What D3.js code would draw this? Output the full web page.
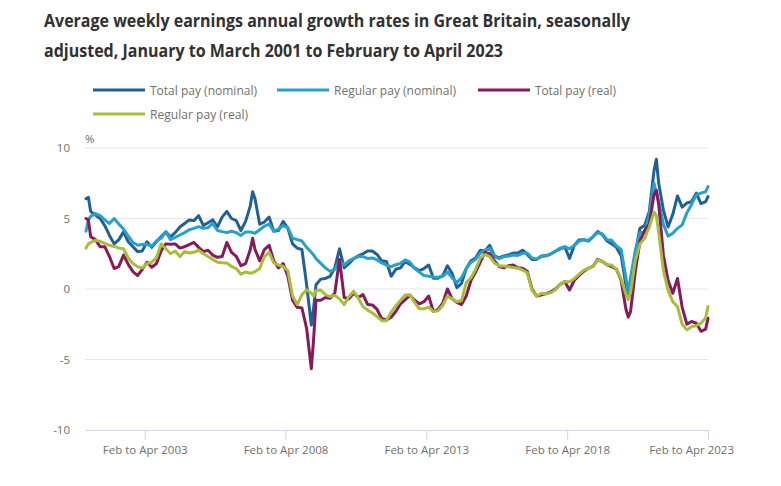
<!DOCTYPE html>
<html>
<head>
<meta charset="utf-8">
<script src="https://cdn.jsdelivr.net/npm/d3@7"></script>
<style>
  body { margin: 0; background: #fff; }
  svg { display: block; font-family: "Open Sans", sans-serif; }
</style>
</head>
<body>
<svg id="chart" width="781" height="486"></svg>
<script>
// Month index of each rolling 3-month period, 0 = Jan to Mar 2001
const months = [
  0, 1, 2, 4, 6, 8, 10, 12, 14, 16, 18, 20, 22,
  24, 26, 28, 30, 32, 34, 36, 38, 40, 42, 44, 46,
  48, 50, 52, 54, 56, 58, 60, 62, 64, 66, 68, 70, 71,
  72, 74, 76, 78, 80, 82, 84, 86, 88, 90, 92, 94,
  96, 97, 98, 100, 102, 104, 106, 108, 110, 112, 114, 116, 118,
  120, 122, 124, 126, 128, 130, 132, 134, 136, 138, 140, 142,
  144, 146, 148, 150, 152, 154, 156, 158, 160, 162, 164, 166,
  168, 170, 172, 174, 176, 178, 180, 182, 184, 186, 188, 190,
  192, 194, 196, 198, 200, 202, 204, 206, 208, 210, 212, 214,
  216, 218, 220, 222, 224, 226, 228, 230, 231, 232, 234, 236, 238,
  240, 242, 243, 244, 246, 248, 250, 252, 254, 256, 258, 260, 262, 264, 265
];

const totalNominal = [
  6.4, 6.5, 5.5, 5.25, 5.0, 4.5, 3.8, 3.2, 3.5, 4.05, 3.35, 3.0, 2.65,
  2.7, 3.35, 2.95, 3.35, 3.7, 4.05, 3.7, 4.0, 4.4, 4.65, 4.9, 4.85,
  5.2, 4.5, 4.7, 4.9, 4.4, 5.1, 5.5, 5.0, 4.85, 4.15, 4.8, 5.9, 6.9,
  6.4, 4.6, 4.75, 5.1, 4.1, 4.15, 4.8, 4.3, 3.2, 2.9, 2.8, 0.3,
  -2.55, -1.3, 0.3, 0.7, 0.75, 0.9, 1.5, 2.85, 1.5, 1.8, 2.15, 2.35, 2.5,
  2.7, 2.7, 2.45, 2.0, 1.95, 0.9, 1.4, 1.5, 1.94, 1.75, 1.5, 1.3,
  1.45, 1.7, 0.76, 0.76, 0.95, 1.65, 1.1, 0.1, 0.4, 1.45, 2.0, 2.2,
  2.75, 2.7, 3.1, 2.35, 2.2, 2.34, 2.41, 2.55, 2.55, 2.75, 2.45, 2.1,
  2.1, 2.34, 2.35, 2.48, 2.68, 2.85, 2.98, 2.17, 3.08, 3.48, 3.5, 3.4,
  3.7, 4.07, 3.85, 3.4, 3.2, 2.95, 2.35, 0.3, -0.6, -0.1, 2.5, 4.3, 4.5,
  5.5, 8.4, 9.2, 7.5, 5.6, 4.4, 5.3, 6.6, 5.8, 6.1, 6.2, 6.8, 6.05, 6.2, 6.55
];

const regularNominal = [
  4.1, 4.9, 5.15, 5.35, 5.2, 4.9, 4.65, 5.0, 4.6, 4.25, 3.75, 3.3, 3.1,
  3.15, 3.15, 3.05, 3.4, 3.6, 4.05, 3.5, 3.66, 3.83, 4.0, 4.2, 4.3,
  4.42, 4.3, 4.35, 4.65, 4.15, 4.07, 4.0, 4.1, 4.0, 3.8, 4.05, 4.05, 4.0,
  3.95, 4.2, 4.45, 4.6, 4.1, 4.25, 4.5, 4.35, 3.6, 3.5, 3.4, 2.95,
  2.6, 2.4, 2.15, 1.82, 1.5, 1.25, 1.4, 2.0, 1.7, 2.0, 2.15, 2.3, 2.3,
  2.17, 2.2, 2.06, 1.85, 1.7, 1.58, 1.72, 1.82, 2.06, 1.9, 1.45, 1.2,
  0.95, 0.9, 0.85, 0.83, 0.9, 1.2, 0.8, 0.45, 0.8, 1.45, 1.9, 2.1,
  2.55, 2.77, 2.88, 2.3, 2.15, 2.3, 2.32, 2.41, 2.38, 2.53, 2.55, 2.2,
  2.12, 2.3, 2.35, 2.5, 2.68, 2.9, 3.0, 2.85, 3.08, 3.38, 3.5, 3.45,
  3.72, 4.0, 3.9, 3.5, 3.45, 3.05, 2.8, 0.8, -0.2, 0.8, 2.7, 4.0, 4.0,
  5.3, 7.5, 6.8, 6.2, 4.6, 3.75, 3.95, 4.3, 4.55, 5.4, 6.0, 6.67, 6.8, 6.9, 7.26
];

const totalReal = [
  5.0, 4.9, 3.7, 3.5, 3.0, 3.0, 2.3, 1.45, 1.6, 2.4, 1.75, 1.23, 0.95,
  1.4, 1.9, 1.54, 1.8, 2.7, 3.2, 3.17, 3.2, 2.9, 3.0, 3.15, 3.3,
  2.95, 2.65, 2.75, 2.4, 2.25, 2.3, 3.3, 2.6, 2.32, 1.65, 1.8, 2.8, 3.6,
  2.8, 2.0, 2.8, 3.1, 2.0, 1.5, 1.8, 0.9, -0.8, -1.3, -1.35, -2.8,
  -5.65, -3.5, -0.8, -0.8, -0.6, -0.65, -0.3, 2.1, -0.6, -0.7, -0.3, -0.6, -0.4,
  -1.1, -1.13, -1.45, -2.1, -2.2, -2.0, -1.6, -1.05, -0.75, -0.45, -0.8, -1.05,
  -0.9, -0.5, -1.6, -1.45, -1.0, 0.0, -0.7, -0.95, -1.1, -0.5, 0.6, 1.2,
  1.9, 2.6, 2.5, 2.0, 1.6, 1.5, 1.65, 1.7, 1.5, 1.47, 1.25, 0.0,
  -0.5, -0.42, -0.33, -0.2, 0.0, 0.33, 0.52, -0.07, 0.6, 0.95, 1.25, 1.47,
  1.6, 2.1, 1.95, 1.72, 1.58, 1.4, 0.6, -1.4, -2.0, -1.6, 1.2, 3.4, 4.15,
  4.6, 6.7, 7.0, 6.0, 2.4, 0.6, -0.3, 0.75, -1.3, -2.5, -2.3, -2.43, -3.0, -2.85, -2.08
];

const regularReal = [
  2.9, 3.2, 3.3, 3.45, 3.38, 3.24, 3.1, 3.02, 2.9, 2.85, 2.2, 1.8, 1.58,
  1.5, 1.8, 1.9, 2.2, 3.2, 2.85, 2.5, 2.7, 2.3, 2.65, 2.55, 2.6,
  2.75, 2.5, 2.3, 2.1, 1.9, 1.87, 1.85, 1.6, 1.45, 1.05, 1.2, 1.12, 1.15,
  1.23, 1.45, 2.3, 2.6, 1.85, 1.7, 1.6, 1.3, -0.5, -1.1, -0.4, -0.07,
  -0.3, -0.5, -0.1, -0.07, -0.4, -0.54, -0.45, -0.7, -1.1, -0.55, -0.15, -0.65, -1.25,
  -1.5, -1.7, -1.96, -2.25, -2.25, -1.65, -1.2, -0.8, -0.42, -0.4, -0.95, -1.4,
  -1.4, -1.28, -1.6, -1.55, -1.15, -0.5, -0.7, -0.9, -0.8, 0.45, 0.8, 1.4,
  2.2, 2.45, 2.3, 1.85, 1.63, 1.63, 1.58, 1.52, 1.47, 1.35, 1.15, -0.1,
  -0.5, -0.3, -0.35, -0.26, -0.05, 0.33, 0.52, 0.52, 0.73, 1.03, 1.32, 1.47,
  1.6, 2.06, 1.95, 1.72, 1.7, 1.4, 0.7, -0.35, -0.75, -0.25, 2.0, 3.2, 3.6,
  4.4, 5.45, 5.2, 4.0, 1.3, -0.1, -0.9, -1.25, -2.5, -2.9, -2.67, -2.6, -2.43, -2.05, -1.25
];

const seriesNames = ["Total pay (nominal)", "Regular pay (nominal)", "Total pay (real)", "Regular pay (real)"];
const seriesColors = ["#206095", "#27a0cc", "#871a5b", "#a8bd3a"];

const tickMonths = [25, 85, 145, 205, 265];
const tickLabels = ["Feb to Apr 2003", "Feb to Apr 2008", "Feb to Apr 2013", "Feb to Apr 2018", "Feb to Apr 2023"];
const yTicks = [10, 5, 0, -5, -10];

const titleLines = [
  "Average weekly earnings annual growth rates in Great Britain, seasonally",
  "adjusted, January to March 2001 to February to April 2023"
];

(function () {
  const PLOT_LEFT = 86;
  const PLOT_RIGHT = 708;
  const PLOT_TOP = 148;
  const PLOT_BOTTOM = 430;
  const CHART_RIGHT = 734;
  const LINE_WIDTH = 3;

  const svg = d3.select("#chart");
  svg.append("rect").attr("width", 781).attr("height", 486).attr("fill", "#fff");

  const x = d3.scaleLinear().domain([0, 265]).range([PLOT_LEFT, PLOT_RIGHT]);
  const y = d3.scaleLinear().domain([-10, 10]).range([PLOT_BOTTOM, PLOT_TOP]);

  drawTitle();
  drawLegend();
  drawAxes();
  drawLines();

  function drawTitle() {
    const widths = [586, 459];
    svg.selectAll(".title")
      .data(titleLines)
      .enter()
      .append("text")
      .attr("class", "title")
      .attr("x", 44)
      .attr("y", (d, i) => 27 + i * 30)
      .attr("font-size", 17)
      .attr("font-weight", 700)
      .attr("fill", "#323132")
      .attr("textLength", (d, i) => widths[i])
      .attr("lengthAdjust", "spacingAndGlyphs")
      .text((d) => d);
  }

  function drawLegend() {
    // swatch start, row, label width
    const items = [
      { x: 93, row: 0, w: 107 },
      { x: 277, row: 0, w: 122 },
      { x: 478, row: 0, w: 81 },
      { x: 93, row: 1, w: 98 }
    ];
    const g = svg.append("g").attr("class", "legend");
    items.forEach((item, i) => {
      const cy = 90 + item.row * 24;
      g.append("line")
        .attr("x1", item.x).attr("x2", item.x + 52)
        .attr("y1", cy).attr("y2", cy)
        .attr("stroke", seriesColors[i])
        .attr("stroke-width", LINE_WIDTH);
      g.append("text")
        .attr("x", item.x + 57)
        .attr("y", cy + 4.5)
        .attr("font-size", 12)
        .attr("fill", "#707070")
        .attr("textLength", item.w)
        .attr("lengthAdjust", "spacingAndGlyphs")
        .text(seriesNames[i]);
    });
  }

  function drawAxes() {
    // Horizontal grid lines
    svg.append("g").attr("class", "grid")
      .selectAll("line")
      .data(yTicks.filter((t) => t > -10))
      .enter()
      .append("line")
      .attr("x1", PLOT_LEFT - 1).attr("x2", PLOT_RIGHT)
      .attr("y1", (d) => y(d)).attr("y2", (d) => y(d))
      .attr("stroke", "#e6e6e6")
      .attr("stroke-width", 1);

    // Y labels (plain hyphen for negatives, like the original)
    const yAxis = d3.axisLeft(y).tickValues(yTicks).tickFormat((d) => String(d)).tickSize(0).tickPadding(0);
    const yG = svg.append("g").attr("transform", `translate(${PLOT_LEFT - 16},0)`).call(yAxis);
    yG.select(".domain").remove();
    yG.selectAll("text")
      .attr("font-family", "Open Sans, sans-serif")
      .attr("font-size", 11.5)
      .attr("fill", "#707070");

    svg.append("text")
      .attr("x", PLOT_LEFT - 1)
      .attr("y", 143)
      .attr("font-size", 11.5)
      .attr("fill", "#707070")
      .text("%");

    // X axis
    const xAxis = d3.axisBottom(x)
      .tickValues(tickMonths)
      .tickFormat((d, i) => tickLabels[i])
      .tickSize(10)
      .tickPadding(4)
      .tickSizeOuter(0);
    const xG = svg.append("g").attr("transform", `translate(0,${PLOT_BOTTOM})`).call(xAxis);
    xG.select(".domain").attr("stroke", "#ccd6eb").attr("d", `M${PLOT_LEFT - 1},0.5H${PLOT_RIGHT}`);
    xG.selectAll(".tick line").attr("stroke", "#ccd6eb");
    xG.selectAll("text")
      .attr("font-family", "Open Sans, sans-serif")
      .attr("font-size", 11.5)
      .attr("fill", "#707070")
      .attr("dy", "0.9em");

    // Keep the last label inside the chart, as the original does
    xG.selectAll("text").each(function () {
      const box = this.getBBox();
      const tick = this.parentNode.transform.baseVal.consolidate().matrix.e;
      const right = tick + box.x + box.width;
      if (right > CHART_RIGHT) {
        d3.select(this).attr("x", CHART_RIGHT - right);
      }
    });
  }

  function drawLines() {
    const seriesValues = [totalNominal, regularNominal, totalReal, regularReal];
    const line = d3.line()
      .x((d) => x(d.month))
      .y((d) => y(d.value));

    svg.append("g").attr("class", "lines")
      .selectAll("path")
      .data(seriesValues.map((values, i) => ({
        color: seriesColors[i],
        points: months.map((m, j) => ({ month: m, value: values[j] }))
      })))
      .enter()
      .append("path")
      .attr("d", (d) => line(d.points))
      .attr("fill", "none")
      .attr("stroke", (d) => d.color)
      .attr("stroke-width", LINE_WIDTH)
      .attr("stroke-linejoin", "round")
      .attr("stroke-linecap", "round");
  }
})();
</script>
</body>
</html>
